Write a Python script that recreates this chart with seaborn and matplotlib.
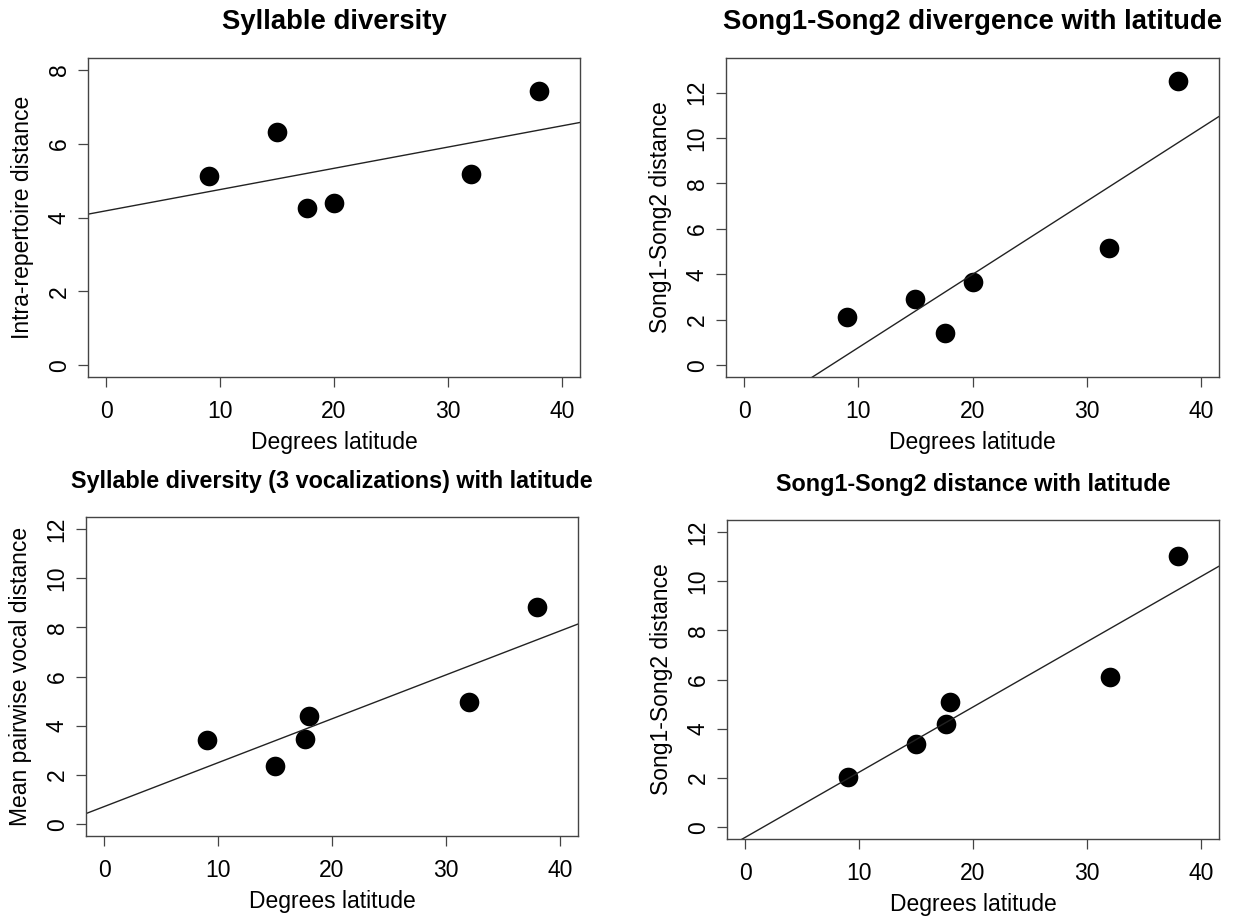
import numpy as np
import matplotlib
matplotlib.use("Agg")
import matplotlib.pyplot as plt
import seaborn as sns

sns.set_theme(style="white")
plt.rcParams["font.family"] = ["Liberation Sans", "DejaVu Sans"]
plt.rcParams["text.color"] = "black"
plt.rcParams["axes.labelcolor"] = "black"
plt.rcParams["xtick.color"] = "black"
plt.rcParams["ytick.color"] = "black"

# Latitude of each sampled population
lat_a = [9, 15, 17.6, 20, 32, 38]
lat_b = [9, 15, 17.6, 18, 32, 38]

# Response variables
intra_repertoire = [5.12, 6.32, 4.25, 4.38, 5.17, 7.42]
song_divergence = [2.10, 2.90, 1.40, 3.65, 5.15, 12.50]
pairwise_vocal = [3.40, 2.35, 3.45, 4.40, 4.98, 8.82]
song_distance = [2.05, 3.38, 4.20, 5.08, 6.10, 11.03]

titles = [
    "Syllable diversity",
    "Song1-Song2 divergence with latitude",
    "Syllable diversity (3 vocalizations) with latitude",
    "Song1-Song2 distance with latitude",
]
title_sizes = [19.8, 19.8, 16.8, 16.8]
ylabels = [
    "Intra-repertoire distance",
    "Song1-Song2 distance",
    "Mean pairwise vocal distance",
    "Song1-Song2 distance",
]
xlabel = "Degrees latitude"
xticks = [0, 10, 20, 30, 40]
yticks = [[0, 2, 4, 6, 8], [0, 2, 4, 6, 8, 10, 12],
          [0, 2, 4, 6, 8, 10, 12], [0, 2, 4, 6, 8, 10, 12]]
ylims = [(0, 8), (0, 13), (0, 12), (0, 12)]
xlim = (0, 40)

panels = [
    (lat_a, intra_repertoire),
    (lat_a, song_divergence),
    (lat_b, pairwise_vocal),
    (lat_b, song_distance),
]

W, H = 1238, 918
fig = plt.figure(figsize=(W / 100, H / 100), dpi=100)

# axes boxes in pixels: left, top, right, bottom
boxes = [
    (88, 58, 580, 377),
    (726, 58, 1219, 377),
    (86, 517, 578, 836),
    (727, 520, 1219, 839),
]


def expand(lim, frac=0.04):
    lo, hi = lim
    d = (hi - lo) * frac
    return lo - d, hi + d


label_size = 16.5
for i, (x, y) in enumerate(panels):
    l, t, r, b = boxes[i]
    ax = fig.add_axes([l / W, (H - b) / H, (r - l) / W, (b - t) / H])
    ax.set_xlim(*expand(xlim))
    ax.set_ylim(*expand(ylims[i]))
    sns.regplot(x=x, y=y, ax=ax, ci=None, truncate=False,
                scatter_kws=dict(s=200, color="black", linewidths=0, alpha=1),
                line_kws=dict(color="#222222", lw=1.0))
    ax.set_xlim(*expand(xlim))
    ax.set_ylim(*expand(ylims[i]))
    ax.set_xticks(xticks)
    ax.set_yticks(yticks[i])
    ax.set_xticklabels([str(v) for v in xticks])
    ax.set_yticklabels([str(v) for v in yticks[i]], rotation=90, va="center")
    for s in ax.spines.values():
        s.set_color("#444444")
        s.set_linewidth(1.0)
        s.set_visible(True)
    ax.tick_params(axis="both", direction="out", length=7.5, width=0.9,
                   color="#444444", labelcolor="black", labelsize=label_size,
                   left=True, bottom=True)
    ax.tick_params(axis="x", pad=9)
    ax.tick_params(axis="y", pad=5)
    ax.set_xlabel(xlabel, fontsize=label_size, labelpad=6)
    ax.set_ylabel(ylabels[i], fontsize=label_size, labelpad=10)
    ax.set_title(titles[i], fontsize=title_sizes[i], fontweight="bold", pad=21)
    ax.grid(False)

fig.savefig("out.png", dpi=100, facecolor="white")
